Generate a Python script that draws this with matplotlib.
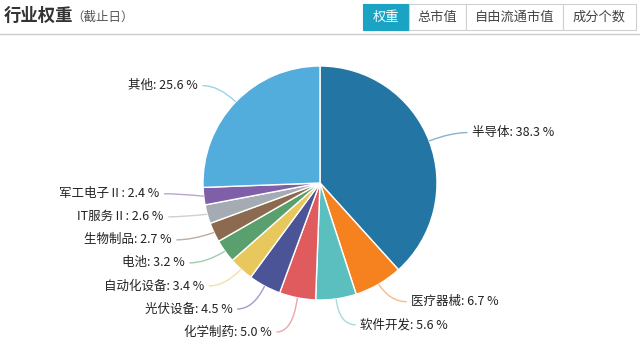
import matplotlib.pyplot as plt
import numpy as np
from matplotlib.patches import Rectangle, PathPatch
from matplotlib.path import Path

plt.rcParams['font.family'] = ['Noto Sans CJK SC', 'DejaVu Sans']

# data
industries = ['半导体', '医疗器械', '软件开发', '化学制药', '光伏设备', '自动化设备',
              '电池', '生物制品', 'IT服务Ⅱ', '军工电子Ⅱ', '其他']
weights = [38.3, 6.7, 5.6, 5.0, 4.5, 3.4, 3.2, 2.7, 2.6, 2.4, 25.6]
colors = ['#2376a4', '#f5821f', '#5bbfc0', '#e05b5e', '#4a5496', '#e8c75c',
          '#5a9f6e', '#8b6a50', '#a5abb3', '#7f5fa8', '#52acdc']
tabs = ['权重', '总市值', '自由流通市值', '成分个数']

W, H = 640, 345
fig = plt.figure(figsize=(W / 100, H / 100), dpi=100)


def fx(px):
    return px / W


def fy(py):
    return 1 - py / H


# header
fig.text(fx(4), fy(16), '行业权重', fontsize=12.5, fontweight='bold', color='#333333', va='center')
fig.text(fx(71), fy(17), '（截止日）', fontsize=9, color='#555555', va='center')
fig.add_artist(plt.Line2D([0, 1], [fy(34), fy(34)], color='#cccccc', lw=1))

tab_edges = [363, 409, 466, 563, 636]
for i, t in enumerate(tabs):
    x0, x1 = tab_edges[i], tab_edges[i + 1]
    sel = i == 0
    fig.add_artist(Rectangle((fx(x0), fy(30)), fx(x1 - x0), 26 / H,
                             facecolor='#1aa3c2' if sel else 'white',
                             edgecolor='#1aa3c2' if sel else '#d0d0d0', lw=0.8))
    fig.text(fx((x0 + x1) / 2), fy(17.5), t, fontsize=9.5, ha='center', va='center',
             color='white' if sel else '#444444')

# pie
cx, cy, r = 320, 183, 117
ax = fig.add_axes([fx(cx - r), (H - cy - r) / H, 2 * r / W, 2 * r / H])
wedges, _ = ax.pie(weights, colors=colors, startangle=90, counterclock=False,
                   radius=1, wedgeprops=dict(edgecolor='white', linewidth=1))
ax.set_xlim(-1, 1)
ax.set_ylim(-1, 1)
ax.set_aspect('auto')
ax.axis('off')

# label layout
vals = np.array(weights)
mids = (np.cumsum(vals) - vals / 2) / vals.sum() * 2 * np.pi
sx, cyv = np.sin(mids), np.cos(mids)
ly = 1.2 * cyv
gap = 0.197


def spread(idx):
    idx = sorted(idx, key=lambda i: -ly[i])
    for _ in range(200):
        moved = False
        for a, b in zip(idx[:-1], idx[1:]):
            d = ly[a] - ly[b]
            if d < gap:
                s = (gap - d) / 2
                ly[a] += s
                ly[b] -= s
                moved = True
        if not moved:
            break


spread([i for i in range(len(vals)) if sx[i] >= 0])
spread([i for i in range(len(vals)) if sx[i] < 0])

for i, name in enumerate(industries):
    side = 1 if sx[i] >= 0 else -1
    p0 = (sx[i], cyv[i])
    p1 = (1.2 * sx[i], ly[i])
    p2 = (p1[0] + side * 0.14, ly[i])
    path = Path([p0, p1, p2], [Path.MOVETO, Path.CURVE3, Path.CURVE3])
    ax.add_patch(PathPatch(path, facecolor='none', edgecolor=colors[i], lw=1,
                           alpha=0.55, clip_on=False))
    ax.text(p2[0] + side * 0.04, ly[i], f'{name}: {weights[i]:.1f} %', fontsize=9,
            ha='left' if side > 0 else 'right', va='center', color='#222222',
            clip_on=False)

fig.savefig('out.png', dpi=100)
